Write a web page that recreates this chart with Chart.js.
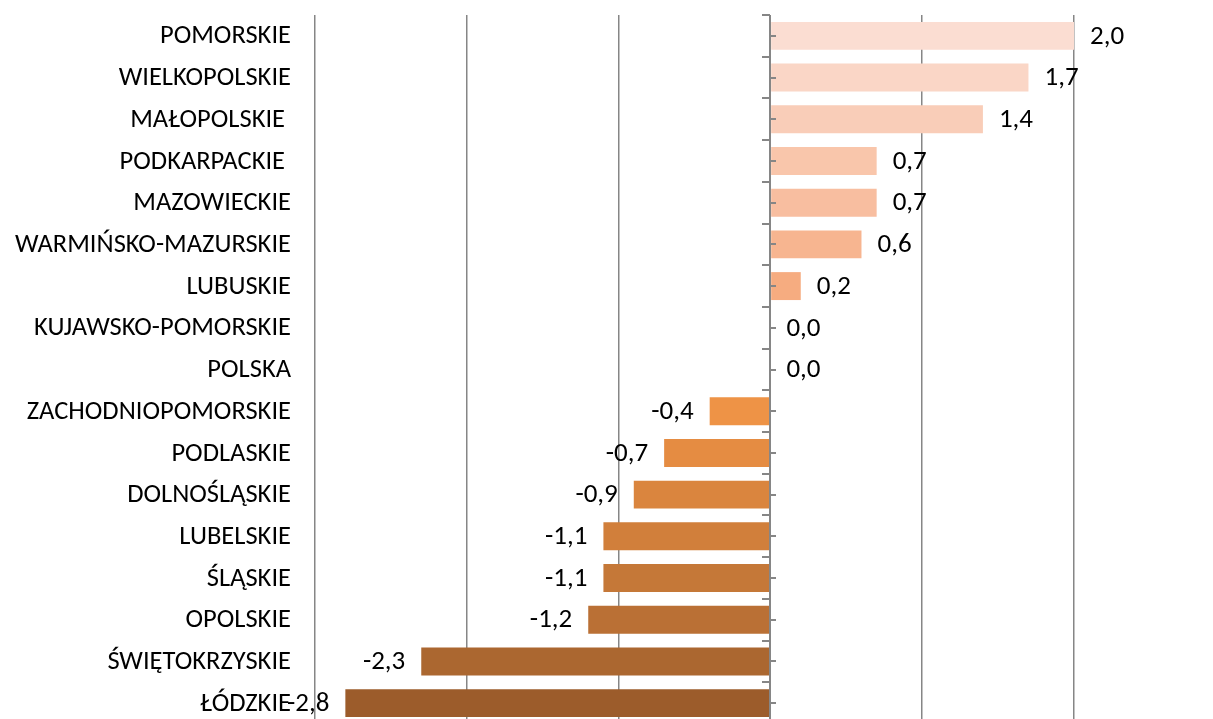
<!DOCTYPE html>
<html><head><meta charset="utf-8">
<script src="https://cdn.jsdelivr.net/npm/chart.js@4/dist/chart.umd.min.js"></script>
<style>html,body{margin:0;padding:0;overflow:hidden;background:#fff}#wrap{width:1213px;height:724px;position:relative}</style>
</head><body><div id="wrap"><canvas id="c"></canvas></div>
<script>
const categories = ["POMORSKIE","WIELKOPOLSKIE","MAŁOPOLSKIE ","PODKARPACKIE ","MAZOWIECKIE","WARMIŃSKO-MAZURSKIE","LUBUSKIE","KUJAWSKO-POMORSKIE","POLSKA","ZACHODNIOPOMORSKIE","PODLASKIE","DOLNOŚLĄSKIE","LUBELSKIE","ŚLĄSKIE","OPOLSKIE","ŚWIĘTOKRZYSKIE","ŁÓDZKIE"];
const values = [2.0,1.7,1.4,0.7,0.7,0.6,0.2,0.0,0.0,-0.4,-0.7,-0.9,-1.1,-1.1,-1.2,-2.3,-2.8];
const barColors = ["#FBDDD2","#FAD6C6","#F9CDB8","#F9C6AB","#F8BEA0","#F7B590","#F6AC80","#F5A575","#F29C60","#EE9346","#E58C42","#DA853E","#D17F3B","#C57838","#BA7035","#AB6730","#9C5C2B"];
const xMin = -3, xMax = 2, xStep = 1;
const FONT = "Carlito, Calibri, Lato, sans-serif";

const textPlugin = {
  id: 'texts',
  afterDatasetsDraw(chart) {
    const ctx = chart.ctx;
    const meta = chart.getDatasetMeta(0);
    const ys = chart.scales.y;
    ctx.save();
    ctx.fillStyle = "#000";
    ctx.textBaseline = "middle";
    // category labels
    ctx.font = "26.5px " + FONT;
    ctx.textAlign = "right";
    categories.forEach((c, i) => {
      ctx.fillText(c, chart.chartArea.left - 24, ys.getPixelForValue(i) + 1);
    });
    // value labels
    ctx.font = "27px " + FONT;
    meta.data.forEach((bar, i) => {
      const v = values[i];
      const txt = v.toFixed(1).replace('.', ',');
      if (v < 0) { ctx.textAlign = "right"; ctx.fillText(txt, bar.x - 16, bar.y + 1); }
      else { ctx.textAlign = "left"; ctx.fillText(txt, bar.x + 16, bar.y + 1); }
    });
    ctx.restore();
  }
};

const axisPlugin = {
  id: 'zeroAxis',
  afterDatasetsDraw(chart) {
    const ctx = chart.ctx, xs = chart.scales.x, ys = chart.scales.y;
    const x0 = Math.round(xs.getPixelForValue(0));
    const top = chart.chartArea.top, bottom = chart.chartArea.bottom;
    const n = categories.length;
    const h = (bottom - top) / n;
    ctx.save();
    ctx.strokeStyle = "#868686";
    ctx.lineWidth = 2;
    ctx.beginPath();
    ctx.moveTo(x0, top); ctx.lineTo(x0, bottom);
    for (let i = 0; i <= n; i++) {
      const y = Math.round(top + i * h);
      ctx.moveTo(x0 - 8, y); ctx.lineTo(x0, y);
    }
    for (let i = 0; i < n; i++) {
      const y = Math.round(ys.getPixelForValue(i));
      ctx.moveTo(x0, y); ctx.lineTo(x0 + 6, y);
    }
    ctx.stroke();
    ctx.restore();
  }
};

new Chart(document.getElementById('c'), {
  type: 'bar',
  data: { labels: categories, datasets: [{ data: values, backgroundColor: barColors, borderWidth: 0, barPercentage: 0.67, categoryPercentage: 1.0 }] },
  options: {
    indexAxis: 'y',
    responsive: true,
    maintainAspectRatio: false,
    animation: false,
    layout: { padding: { top: 15, right: 139, bottom: 0, left: 0 } },
    plugins: { legend: { display: false }, tooltip: { enabled: false } },
    scales: {
      x: {
        min: xMin, max: xMax,
        afterFit(scale) { scale.height = 0; },
        ticks: { display: false, stepSize: xStep },
        grid: { color: (c) => c.tick && c.tick.value === 0 ? 'rgba(0,0,0,0)' : '#868686', lineWidth: 1.5, drawTicks: false },
        border: { display: false }
      },
      y: {
        afterFit(scale) { scale.width = 315; },
        ticks: { display: false },
        grid: { display: false, drawTicks: false },
        border: { display: false }
      }
    }
  },
  plugins: [axisPlugin, textPlugin]
});
</script></body></html>
